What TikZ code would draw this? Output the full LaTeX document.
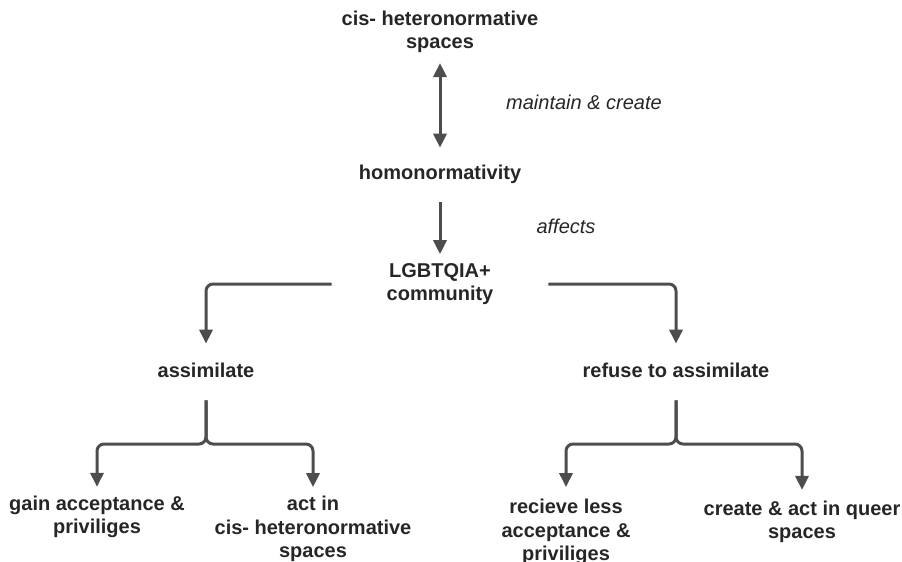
\documentclass[tikz,border=0pt]{standalone}
\usepackage{fontspec}
\setmainfont{Liberation Sans}
\usetikzlibrary{arrows.meta}
\definecolor{txt}{HTML}{262626}
\definecolor{ln}{HTML}{4D4D4D}
\begin{document}
\begin{tikzpicture}[x=1pt,y=-1pt,
  lbl/.style={font=\fontsize{20}{23.5}\selectfont\bfseries, text=txt, align=center, inner sep=0pt, outer sep=0pt},
  rel/.style={font=\fontsize{20}{23.5}\selectfont\itshape, text=txt, inner sep=0pt},
  conn/.style={draw=ln, line width=3pt, rounded corners=7pt, -{Triangle[length=14pt,width=13pt]}},
  dconn/.style={draw=ln, line width=3pt, {Triangle[length=14pt,width=13pt]}-{Triangle[length=14pt,width=13pt]}}]
\useasboundingbox (0,0) rectangle (902,562);
\node[lbl] (cis) at (440,32) {cis- heteronormative\\spaces};
\node[lbl] (homo) at (440,174) {homonormativity};
\node[lbl] (lg) at (440,284) {LGBTQIA+\\community};
\node[lbl] (as) at (206,370) {assimilate};
\node[lbl] (rf) at (676,370) {refuse to assimilate};
\node[lbl] (gain) at (97,517) {gain acceptance \&\\priviliges};
\node[lbl] (act) at (313,529) {act in\\cis- heteronormative\\spaces};
\node[lbl] (rec) at (566,532) {recieve less\\acceptance \&\\priviliges};
\node[lbl] (cre) at (802,522) {create \& act in queer\\spaces};
\node[rel] (mc) at (584,102) {maintain \& create};
\node[rel] (af) at (566,226) {affects};
\coordinate (jL) at (206,444);
\coordinate (jR) at (676,444);
\draw[dconn, shorten <=10pt, shorten >=17pt] (cis.south) -- (homo.north);
\draw[conn, shorten <=19pt, shorten >=9pt] (homo.south) -- (lg.north);
\draw[conn, shorten <=55pt, shorten >=19pt] (lg.west) -| (as.north);
\draw[conn, shorten <=55pt, shorten >=19pt] (lg.east) -| (rf.north);
\draw[conn, shorten <=23pt, shorten >=9pt] (as.south) -- (jL) -| (gain.north);
\draw[conn, shorten <=23pt, shorten >=9pt] (as.south) -- (jL) -| (act.north);
\draw[conn, shorten <=23pt, shorten >=12pt] (rf.south) -- (jR) -| (rec.north);
\draw[conn, shorten <=23pt, shorten >=11pt] (rf.south) -- (jR) -| (cre.north);
\end{tikzpicture}
\end{document}
